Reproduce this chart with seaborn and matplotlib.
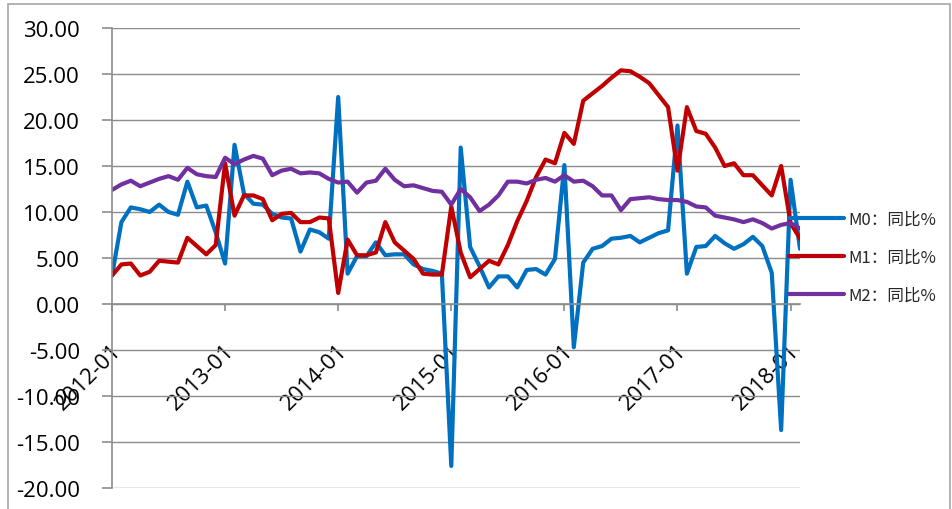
import numpy as np
import pandas as pd
import seaborn as sns
import matplotlib.pyplot as plt
import matplotlib.transforms as mtransforms
from matplotlib.patches import Rectangle

# monthly yoy growth, 2012-01 .. 2018-02
months = pd.period_range('2012-01', '2018-02', freq='M').strftime('%Y-%m').tolist()

m0 = [3.1, 8.9, 10.5, 10.3, 10.0, 10.8, 10.0, 9.7, 13.3, 10.5, 10.7, 7.8,
      4.4, 17.3, 12.0, 10.9, 10.8, 9.8, 9.4, 9.3, 5.7, 8.1, 7.8, 7.1,
      22.5, 3.3, 5.2, 5.2, 6.7, 5.3, 5.4, 5.4, 4.3, 3.8, 3.6, 3.3,
      -17.6, 17.0, 6.2, 4.1, 1.8, 3.0, 3.0, 1.8, 3.7, 3.8, 3.2, 4.9,
      15.1, -4.7, 4.5, 6.0, 6.3, 7.1, 7.2, 7.4, 6.7, 7.2, 7.7, 8.0,
      19.4, 3.3, 6.2, 6.3, 7.4, 6.6, 6.0, 6.5, 7.3, 6.3, 3.4, -13.7,
      13.5, 6.0]
m1 = [3.1, 4.3, 4.4, 3.1, 3.5, 4.7, 4.6, 4.5, 7.2, 6.3, 5.4, 6.4,
      15.3, 9.6, 11.8, 11.8, 11.4, 9.1, 9.8, 9.9, 8.9, 8.9, 9.4, 9.3,
      1.2, 7.0, 5.3, 5.3, 5.6, 8.9, 6.7, 5.8, 4.9, 3.3, 3.2, 3.2,
      10.6, 5.6, 2.9, 3.8, 4.7, 4.3, 6.4, 9.0, 11.2, 13.8, 15.7, 15.3,
      18.6, 17.4, 22.1, 22.9, 23.7, 24.6, 25.4, 25.3, 24.7, 24.0, 22.7, 21.4,
      14.5, 21.4, 18.8, 18.5, 17.0, 15.0, 15.3, 14.0, 14.0, 12.9, 11.8, 15.0,
      8.8, 7.1]
m2 = [12.4, 13.0, 13.4, 12.8, 13.2, 13.6, 13.9, 13.5, 14.8, 14.1, 13.9, 13.8,
      15.9, 15.2, 15.7, 16.1, 15.8, 14.0, 14.5, 14.7, 14.2, 14.3, 14.2, 13.6,
      13.2, 13.3, 12.1, 13.2, 13.4, 14.7, 13.5, 12.8, 12.9, 12.6, 12.3, 12.2,
      10.8, 12.5, 11.6, 10.1, 10.8, 11.8, 13.3, 13.3, 13.1, 13.5, 13.7, 13.3,
      14.0, 13.3, 13.4, 12.8, 11.8, 11.8, 10.2, 11.4, 11.5, 11.6, 11.4, 11.3,
      11.3, 11.1, 10.6, 10.5, 9.6, 9.4, 9.2, 8.9, 9.2, 8.8, 8.2, 8.6,
      8.8, 8.2]

series_names = ['M0：同比%', 'M1：同比%', 'M2：同比%']
colors = ['#0070C0', '#C00000', '#7030A0']
year_ticks = ['2012-01', '2013-01', '2014-01', '2015-01', '2016-01', '2017-01', '2018-01']

df = pd.DataFrame({'month': months, 'M0': m0, 'M1': m1, 'M2': m2})
df['idx'] = np.arange(len(df))
long = df.melt(id_vars=['month', 'idx'], value_vars=['M0', 'M1', 'M2'],
               var_name='series', value_name='value')
long['series'] = long['series'].map(dict(zip(['M0', 'M1', 'M2'], series_names)))

sns.set_style('white')
plt.rcParams['font.family'] = ['Open Sans', 'Noto Sans CJK SC', 'DejaVu Sans']

fig = plt.figure(figsize=(9.53, 5.10), dpi=100)
ax = fig.add_axes([112 / 953, 21 / 510, 688 / 953, 460 / 510])

sns.lineplot(data=long, x='idx', y='value', hue='series', hue_order=series_names,
             palette=colors, ax=ax, sort=False)
for ln in ax.get_lines():
    ln.set_linewidth(3.0)
    ln.set_solid_joinstyle('round')

# spine position first: it resets the tick labels
for s in ['top', 'right']:
    ax.spines[s].set_visible(False)
ax.spines['bottom'].set_position(('data', 0))
ax.spines['left'].set_color('#8c8c8c')
ax.spines['bottom'].set_color('#8c8c8c')
ax.spines['left'].set_linewidth(1.2)
ax.spines['bottom'].set_linewidth(1.2)

ax.set_xlim(0, len(months) - 1)
ax.set_ylim(-20, 30)
ax.set_yticks(np.arange(-20, 31, 5))
ax.set_yticklabels([f'{v:.2f}' for v in np.arange(-20, 31, 5)])
ax.yaxis.grid(True, color='#8c8c8c', linewidth=1.0)
ax.set_axisbelow(True)

ax.set_xticks([months.index(t) for t in year_ticks])
ax.set_xticklabels(year_ticks, rotation=45, ha='right', va='center',
                   rotation_mode='anchor')
ax.set_xlabel('')
ax.set_ylabel('')

ax.tick_params(axis='y', direction='out', length=7, width=1.2, color='#8c8c8c',
               pad=16, labelsize=16, labelcolor='black', left=True)
ax.tick_params(axis='x', direction='out', length=5, width=1.2, color='#8c8c8c',
               pad=26, labelsize=16, labelcolor='black', bottom=True)

# nudge the rotated labels a little to the right, like excel places them
shift = mtransforms.ScaledTranslation(6 / 100, 0, fig.dpi_scale_trans)
for lab in ax.get_xticklabels():
    lab.set_transform(lab.get_transform() + shift)

leg = ax.legend(loc='center left', bbox_to_anchor=(781 / 953, 1 - 258 / 510),
                bbox_transform=fig.transFigure, frameon=False,
                handlelength=3.3, handletextpad=0.25, labelspacing=1.25,
                borderpad=0, prop={'family': ['Noto Sans CJK SC', 'DejaVu Sans'],
                                   'size': 12, 'weight': 'medium'})
for h in leg.get_lines():
    h.set_linewidth(3.0)

fig.patches.append(Rectangle((8 / 953, -0.01), 942 / 953, 1 - 5 / 510 + 0.01,
                             transform=fig.transFigure, fill=False,
                             edgecolor='#a6a6a6', linewidth=1.2))

fig.savefig('out.png', dpi=100)
